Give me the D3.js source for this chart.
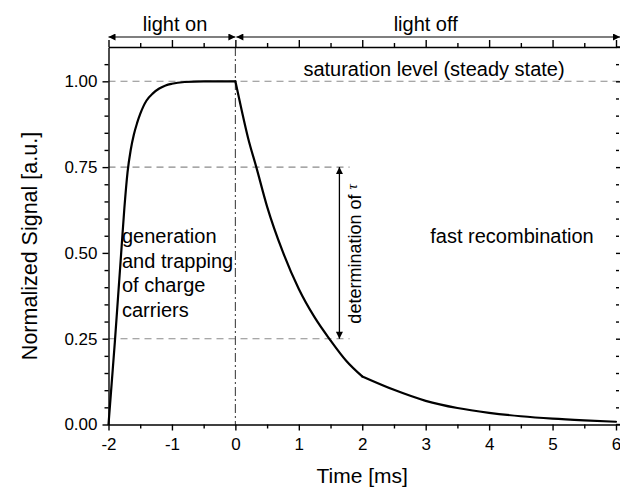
<!DOCTYPE html>
<html>
<head>
<meta charset="utf-8">
<script src="https://cdn.jsdelivr.net/npm/d3@7/dist/d3.min.js"></script>
<style>
  html, body { margin: 0; padding: 0; background: #fff; }
  svg { display: block; }
  text { font-family: "Liberation Sans", Arial, Helvetica, sans-serif; fill: #000; }
</style>
</head>
<body>
<svg id="chart" width="620" height="489"></svg>
<script>
// Photoconductive signal: build-up while illuminated, decay after switch-off
const riseTime   = [-2.00, -1.95, -1.90, -1.85, -1.80, -1.75, -1.70, -1.65, -1.60, -1.55, -1.50, -1.45, -1.40, -1.30, -1.20, -1.10, -1.00, -0.80, -0.50, 0.00];
const riseSignal = [0.000, 0.120, 0.240, 0.370, 0.500, 0.630, 0.735, 0.800, 0.845, 0.878, 0.905, 0.927, 0.944, 0.965, 0.979, 0.988, 0.993, 0.998, 1.000, 1.000];
// fast part of the decay, up to 2 ms
const decayTime   = [0.00, 0.10, 0.20, 0.33, 0.50, 0.75, 1.00, 1.25, 1.50, 1.75, 2.00];
const decaySignal = [1.000, 0.915, 0.835, 0.750, 0.635, 0.502, 0.395, 0.312, 0.245, 0.185, 0.140];
// slow tail after 2 ms
const tailTime   = [2.00, 2.50, 3.00, 3.50, 4.00, 4.50, 5.00, 5.50, 6.00];
const tailSignal = [0.140, 0.101, 0.069, 0.048, 0.034, 0.024, 0.017, 0.012, 0.008];

const xMajor = [-2, -1, 0, 1, 2, 3, 4, 5, 6];
const xMinor = [-1.5, -0.5, 0.5, 1.5, 2.5, 3.5, 4.5, 5.5];
const yMajor = [0, 0.25, 0.5, 0.75, 1.0];
const yMinor = [0.05, 0.10, 0.15, 0.20, 0.30, 0.35, 0.40, 0.45, 0.55, 0.60, 0.65, 0.70, 0.80, 0.85, 0.90, 0.95, 1.05];

const saturationLevel = 1.0;
const tauUpper = 0.75, tauLower = 0.25;
const tauArrowTime = 1.64, tauGuideEnd = 1.8;
const switchTime = 0;

const W = 620, H = 489;
const svg = d3.select("#chart");
const x = d3.scaleLinear().domain([-2, 6]).range([108.5, 616]);
const y = d3.scaleLinear().domain([0, 1.1]).range([424.5, 47]);

const defs = svg.append("defs");
function marker(id, orient) {
  defs.append("marker")
    .attr("id", id).attr("viewBox", "0 0 10 10")
    .attr("refX", 10).attr("refY", 5)
    .attr("markerWidth", 10).attr("markerHeight", 7)
    .attr("markerUnits", "userSpaceOnUse")
    .attr("orient", orient)
    .append("path").attr("d", "M0,0 L10,5 L0,10 Z").attr("fill", "#000");
}
marker("head", "auto");
marker("headStart", "auto-start-reverse");

// reference guides
const guides = svg.append("g").attr("stroke", "#8a8a8a").attr("stroke-width", 1.1).attr("stroke-dasharray", "7,5").attr("fill", "none");
guides.append("line").attr("x1", x(-2)).attr("x2", W).attr("y1", y(saturationLevel)).attr("y2", y(saturationLevel));
[tauUpper, tauLower].forEach(v => {
  guides.append("line").attr("x1", x(-2)).attr("x2", x(tauGuideEnd)).attr("y1", y(v)).attr("y2", y(v));
});

// light switch-off marker
svg.append("line")
  .attr("x1", x(switchTime)).attr("x2", x(switchTime))
  .attr("y1", y(1.1)).attr("y2", y(0))
  .attr("stroke", "#444").attr("stroke-width", 1.1)
  .attr("stroke-dasharray", "9,3,2,3");

// axes
function styleAxis(g) {
  g.selectAll("path, line").attr("stroke", "#000").attr("stroke-width", 1.4);
  g.selectAll("text").attr("font-size", 17).attr("font-family", "'Liberation Sans', Arial, sans-serif");
}
const gBottom = svg.append("g").attr("transform", `translate(0,${y(0)})`)
  .call(d3.axisBottom(x).tickValues(xMajor).tickFormat(d => String(d)).tickSize(6).tickSizeOuter(0).tickPadding(7));
styleAxis(gBottom);
const gBottomMinor = svg.append("g").attr("transform", `translate(0,${y(0)})`)
  .call(d3.axisBottom(x).tickValues(xMinor).tickFormat("").tickSize(4));
gBottomMinor.select(".domain").remove(); styleAxis(gBottomMinor);

const gTop = svg.append("g").attr("transform", `translate(0,${y(1.1)})`)
  .call(d3.axisTop(x).tickValues(xMajor).tickFormat("").tickSize(7).tickSizeOuter(0));
styleAxis(gTop);
const gTopMinor = svg.append("g").attr("transform", `translate(0,${y(1.1)})`)
  .call(d3.axisTop(x).tickValues(xMinor).tickFormat("").tickSize(4));
gTopMinor.select(".domain").remove(); styleAxis(gTopMinor);

const gLeft = svg.append("g").attr("transform", `translate(${x(-2)},0)`)
  .call(d3.axisLeft(y).tickValues(yMajor).tickFormat(d3.format(".2f")).tickSize(6).tickSizeOuter(0).tickPadding(5));
styleAxis(gLeft);
const gLeftMinor = svg.append("g").attr("transform", `translate(${x(-2)},0)`)
  .call(d3.axisLeft(y).tickValues(yMinor).tickFormat("").tickSize(4));
gLeftMinor.select(".domain").remove(); styleAxis(gLeftMinor);

const gRight = svg.append("g").attr("transform", `translate(${x(6)},0)`)
  .call(d3.axisRight(y).tickValues(yMajor.concat([1.1])).tickFormat("").tickSize(6));
gRight.select(".domain").remove(); styleAxis(gRight);
const gRightMinor = svg.append("g").attr("transform", `translate(${x(6)},0)`)
  .call(d3.axisRight(y).tickValues(yMinor).tickFormat("").tickSize(3));
gRightMinor.select(".domain").remove(); styleAxis(gRightMinor);

// frame lines run out to the right edge
[y(0), y(1.1)].forEach(yy => {
  svg.append("line").attr("x1", x(6)).attr("x2", W).attr("y1", yy).attr("y2", yy)
    .attr("stroke", "#000").attr("stroke-width", 1.4);
});

// signal curve: three smooth pieces joined at the switch-off and at 2 ms
const line = d3.line().x(d => x(d[0])).y(d => y(d[1])).curve(d3.curveMonotoneX);
const pieces = [
  riseTime.map((t, i) => [t, riseSignal[i]]),
  decayTime.map((t, i) => [t, decaySignal[i]]),
  tailTime.map((t, i) => [t, tailSignal[i]])
];
svg.append("g").selectAll("path").data(pieces).join("path")
  .attr("fill", "none").attr("stroke", "#000").attr("stroke-width", 2.2)
  .attr("stroke-linejoin", "round").attr("stroke-linecap", "round")
  .attr("d", line);

// light on / light off spans
const yArrow = 37;
svg.append("line")
  .attr("x1", x(-2)).attr("x2", x(switchTime)).attr("y1", yArrow).attr("y2", yArrow)
  .attr("stroke", "#000").attr("stroke-width", 1.2)
  .attr("marker-start", "url(#headStart)").attr("marker-end", "url(#head)");
svg.append("line")
  .attr("x1", x(switchTime) + 1).attr("x2", W).attr("y1", yArrow).attr("y2", yArrow)
  .attr("stroke", "#000").attr("stroke-width", 1.2)
  .attr("marker-start", "url(#headStart)").attr("marker-end", "url(#head)");

svg.append("text").attr("x", x(-0.95)).attr("y", 31).attr("text-anchor", "middle")
  .attr("font-size", 20).text("light on");
svg.append("text").attr("x", x(3)).attr("y", 31).attr("text-anchor", "middle")
  .attr("font-size", 20).text("light off");

// tau arrow
svg.append("line")
  .attr("x1", x(tauArrowTime)).attr("x2", x(tauArrowTime))
  .attr("y1", y(tauLower)).attr("y2", y(tauUpper))
  .attr("stroke", "#000").attr("stroke-width", 1.3)
  .attr("marker-start", "url(#headStart)").attr("marker-end", "url(#head)");
const tauText = svg.append("text")
  .attr("transform", `translate(${x(tauArrowTime) + 22},${(y(tauUpper) + y(tauLower)) / 2 + 1}) rotate(-90)`)
  .attr("text-anchor", "middle").attr("font-size", 18);
tauText.append("tspan").text("determination of ");
tauText.append("tspan").attr("font-family", "'Liberation Serif', 'Times New Roman', serif")
  .attr("font-style", "italic").attr("font-size", 15).attr("dy", -4).text("τ");

// annotations
svg.append("text").attr("x", 434).attr("y", 76).attr("text-anchor", "middle")
  .attr("font-size", 20).text("saturation level (steady state)");
const gen = svg.append("text").attr("x", 122).attr("y", 243).attr("font-size", 20);
["generation", "and trapping", "of charge", "carriers"].forEach((s, i) => {
  gen.append("tspan").attr("x", 122).attr("dy", i === 0 ? 0 : 24.7).text(s);
});
svg.append("text").attr("x", 512).attr("y", 243).attr("text-anchor", "middle")
  .attr("font-size", 20).text("fast recombination");

// axis titles
svg.append("text").attr("x", x(2)).attr("y", 483).attr("text-anchor", "middle")
  .attr("font-size", 21).text("Time [ms]");
svg.append("text").attr("transform", "translate(37,246) rotate(-90)")
  .attr("text-anchor", "middle").attr("font-size", 21.5).text("Normalized Signal [a.u.]");
</script>
</body>
</html>
